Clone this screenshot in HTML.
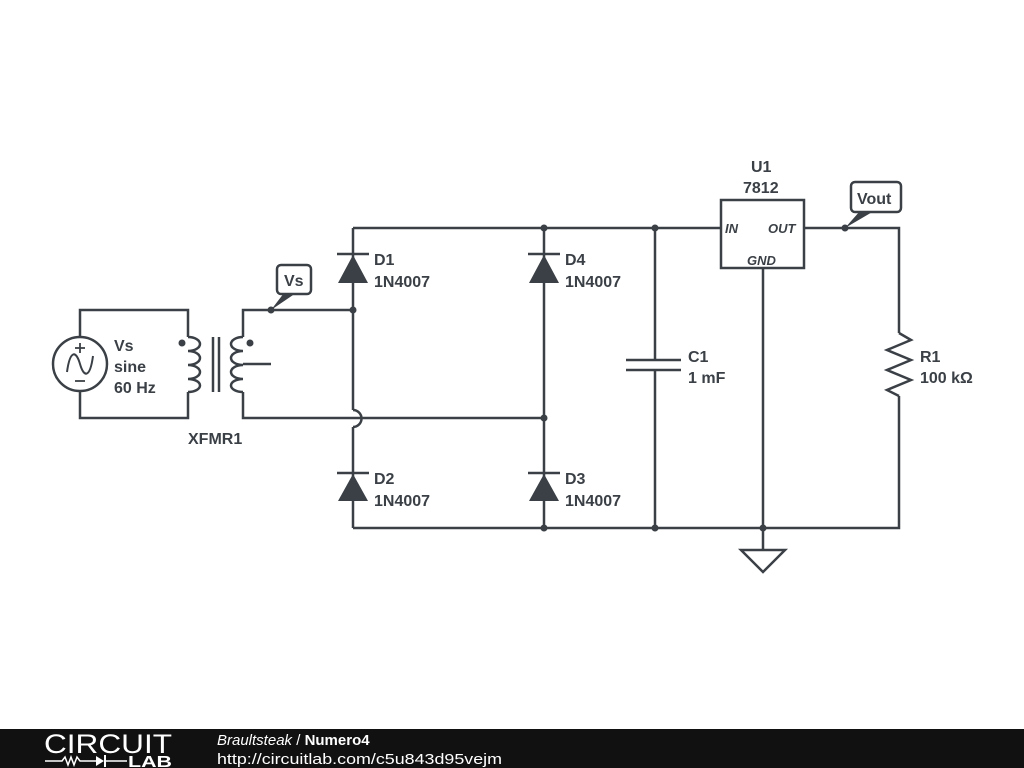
<!DOCTYPE html>
<html><head><meta charset="utf-8"><style>
html,body{margin:0;padding:0;background:#fff;width:1024px;height:768px;overflow:hidden}
svg{display:block}
text{font-family:"Liberation Sans",sans-serif;fill:#3a4046}
</style></head><body>
<svg width="1024" height="768" viewBox="0 0 1024 768">
<g stroke="#3a4046" stroke-width="2.5" fill="none">
<polyline points="80,337 80,310 188,310 188,337"/>
<polyline points="80,391 80,418 188,418 188,392"/>
<circle cx="80" cy="364" r="27"/>
<path d="M67,372 C70,350 76,350 80,364 C84,378 90,378 93,356" stroke-width="2"/>
<line x1="75" y1="348" x2="85" y2="348" stroke-width="1.8"/><line x1="80" y1="343" x2="80" y2="353" stroke-width="1.8"/>
<line x1="75" y1="381" x2="85" y2="381" stroke-width="1.8"/>
<path d="M188,337 a12,7 0 0 1 0,14 a12,7 0 0 1 0,14 a12,7 0 0 1 0,14 a12,6.5 0 0 1 0,13"/>
<line x1="213" y1="337" x2="213" y2="392"/><line x1="219" y1="337" x2="219" y2="392"/>
<path d="M243,337 a12,7 0 0 0 0,14 a12,7 0 0 0 0,14 a12,7 0 0 0 0,14 a12,6.5 0 0 0 0,13"/>
<polyline points="243,337 243,310 353,310"/>
<polyline points="243,392 243,418 544,418"/>
<line x1="243" y1="364" x2="271" y2="364"/>
<line x1="353" y1="228" x2="353" y2="410"/>
<path d="M353,410 a8.5,8.5 0 0 1 0,17"/>
<line x1="353" y1="427" x2="353" y2="528"/>
<line x1="544" y1="228" x2="544" y2="528"/>
<line x1="353" y1="228" x2="721" y2="228"/>
<polyline points="804,228 899,228 899,333"/>
<polyline points="899,396 899,528 353,528"/>
<line x1="655" y1="228" x2="655" y2="360"/><line x1="655" y1="370" x2="655" y2="528"/>
<line x1="626" y1="360" x2="681" y2="360"/><line x1="626" y1="370" x2="681" y2="370"/>
<polyline points="899,333 911,340 887,350 911,360 887,370 911,380 887,390 899,396" stroke-linejoin="miter"/>
<rect x="721" y="200" width="83" height="68"/>
<line x1="763" y1="268" x2="763" y2="550"/>
<polygon points="741,550 785,550 763,572"/>
<line x1="337" y1="254" x2="369" y2="254"/><line x1="528" y1="254" x2="560" y2="254"/>
<line x1="337" y1="473" x2="369" y2="473"/><line x1="528" y1="473" x2="560" y2="473"/>
<rect x="277" y="265" width="34" height="29" rx="4" fill="#fff"/>
<rect x="851" y="182" width="50" height="30" rx="4" fill="#fff"/>
</g>
<g fill="#3a4046">
<polygon points="353,255 338,283 368,283"/><polygon points="544,255 529,283 559,283"/>
<polygon points="353,474 338,501 368,501"/><polygon points="544,474 529,501 559,501"/>
<circle cx="182" cy="343" r="3.5"/><circle cx="250" cy="343" r="3.5"/>
<circle cx="353" cy="310" r="3.5"/><circle cx="271" cy="310" r="3.5"/>
<circle cx="544" cy="228" r="3.5"/><circle cx="655" cy="228" r="3.5"/>
<circle cx="544" cy="418" r="3.5"/><circle cx="845" cy="228" r="3.5"/>
<circle cx="544" cy="528" r="3.5"/><circle cx="655" cy="528" r="3.5"/><circle cx="763" cy="528" r="3.5"/>
<polygon points="271,310 284,293 296,293"/>
<polygon points="845,228 860,211 874,211"/>
</g>
<g font-weight="bold" font-size="16">
<text x="114" y="351">Vs</text><text x="114" y="372">sine</text><text x="114" y="393">60 Hz</text>
<text x="188" y="444">XFMR1</text>
<text x="284" y="286">Vs</text><text x="857" y="204">Vout</text>
<text x="374" y="265">D1</text><text x="374" y="287">1N4007</text>
<text x="565" y="265">D4</text><text x="565" y="287">1N4007</text>
<text x="374" y="484">D2</text><text x="374" y="506">1N4007</text>
<text x="565" y="484">D3</text><text x="565" y="506">1N4007</text>
<text x="688" y="362">C1</text><text x="688" y="383">1 mF</text>
<text x="920" y="362">R1</text><text x="920" y="383">100 kΩ</text>
<text x="751" y="172">U1</text><text x="743" y="193">7812</text>
</g>
<g font-size="13" font-style="italic" font-weight="bold">
<text x="725" y="233">IN</text><text x="768" y="233">OUT</text><text x="747" y="265">GND</text>
</g>
<rect x="0" y="729" width="1024" height="39" fill="#111"/>
<text x="44" y="753" font-size="27" style="fill:#fff" textLength="128" lengthAdjust="spacingAndGlyphs">CIRCUIT</text>
<polyline points="45,761 62,761 65,757 68,765 71,757 74,765 77,757 80,761 96,761" stroke="#fff" stroke-width="1.5" fill="none"/>
<polygon points="96,756 96,766 104,761" fill="#fff"/><line x1="105" y1="755" x2="105" y2="767" stroke="#fff" stroke-width="2"/>
<line x1="105" y1="761" x2="127" y2="761" stroke="#fff" stroke-width="1.5"/>
<text x="128" y="767" font-size="16" font-weight="bold" style="fill:#fff" textLength="44" lengthAdjust="spacingAndGlyphs">LAB</text>
<text x="217" y="745" font-size="15" style="fill:#fff" font-family="DejaVu Sans"><tspan font-style="italic">Braultsteak</tspan> / <tspan font-weight="bold">Numero4</tspan></text>
<text x="217" y="764" font-size="15" style="fill:#fff" font-family="DejaVu Sans" textLength="285" lengthAdjust="spacingAndGlyphs">http://circuitlab.com/c5u843d95vejm</text>
</svg>
</body></html>
